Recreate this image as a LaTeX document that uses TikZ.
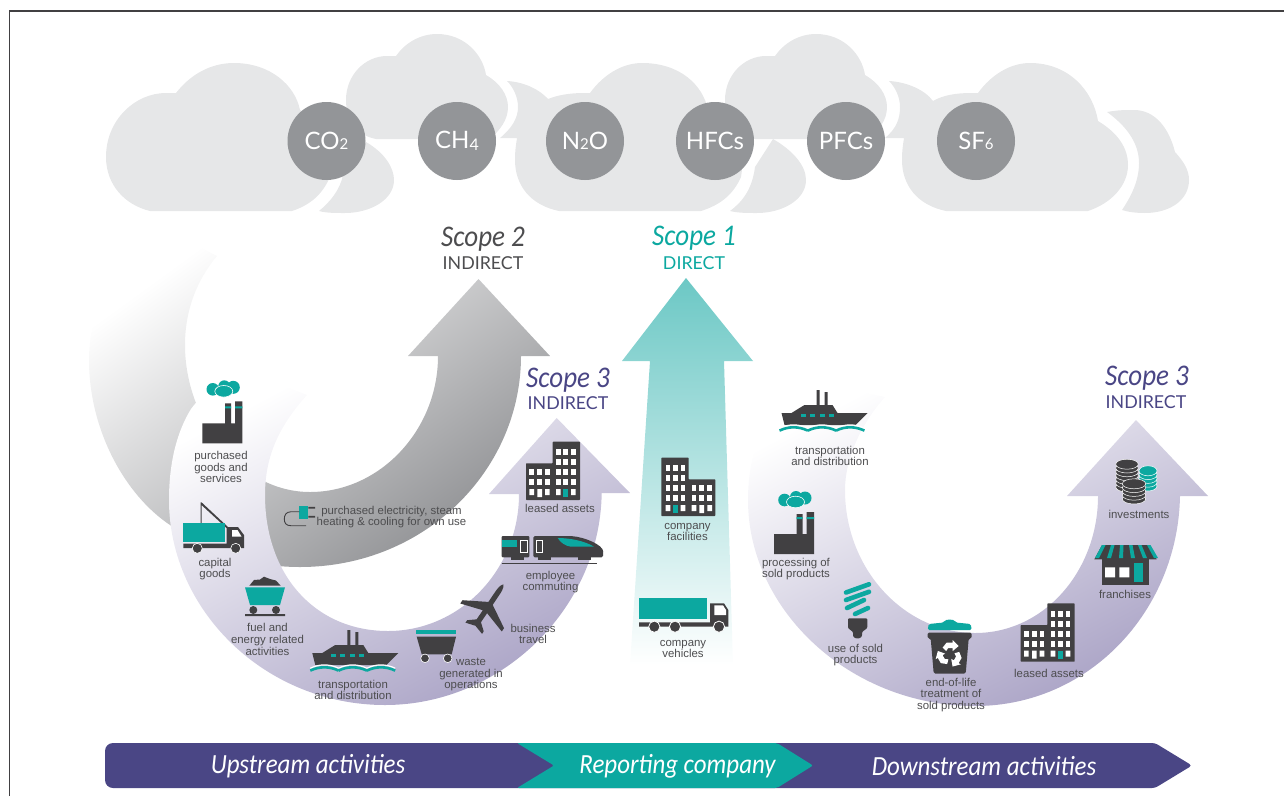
\documentclass[tikz,border=0pt]{standalone}
\usepackage{fontspec}
\setmainfont{Liberation Sans}
\newfontfamily\gasfont{Lato}
\newfontfamily\handfont[FakeStretch=0.9]{Carlito}
\usepackage{xcolor}
\definecolor{cloudgrey}{HTML}{E6E7E8}
\definecolor{gasgrey}{HTML}{939598}
\definecolor{arcgrey}{HTML}{8F9093}
\definecolor{labelgrey}{HTML}{4D4D4F}
\definecolor{icondark}{HTML}{414042}
\definecolor{tealmain}{HTML}{0CA8A0}
\definecolor{tealarrow}{HTML}{6CC8C5}
\definecolor{barpurple}{HTML}{4A4685}
\definecolor{arcpurple}{HTML}{A9A2C5}
\tikzset{
    cloud/.style={fill=cloudgrey},
    gas/.style={circle, fill=gasgrey, minimum size=78pt, inner sep=0pt, text=white, font=\gasfont\fontsize{24}{24}\selectfont},
    lbl/.style={align=center, text=labelgrey, inner sep=0pt, font=\fontsize{11.4}{11.7}\selectfont},
    scopetitle/.style={inner sep=0pt, font=\handfont\itshape\fontsize{30}{30}\selectfont},
    scopekind/.style={inner sep=0pt, font=\gasfont\fontsize{17.8}{18}\selectfont},
    barlabel/.style={inner sep=0pt, text=white, font=\handfont\itshape\fontsize{27.7}{28}\selectfont},
    pics/factory/.style={code={
        \fill[icondark] (0,0) rectangle (40,-20) (22.7,-20) rectangle (28.7,-40) (32.7,-20) rectangle (40,-42);
        \fill[tealmain] (22.7,-37) rectangle (28.7,-35) (32.7,-37) rectangle (40,-35);
        \fill[tealmain] (10.5,-54) circle (6.3) (22,-57) circle (6) (31,-56) circle (6.5);
        \fill[tealmain, draw=white, line width=.6] (21.5,-52) ellipse [x radius=9, y radius=5.8];
    }},
    pics/ship/.style={code={
        \fill[icondark] (0,-12) -- (10,-12) -- (18,-17) -- (23,-20) -- (35,-20) -- (35,-35) -- (38,-35) -- (38,-20) -- (43,-20) -- (43,-33) -- (46,-33) -- (46,-20) -- (51,-20) -- (56,-12) -- (86,-12) -- (74,0) -- (3,0) -- cycle;
        \foreach \wx in {19,28,38,47} \fill[tealmain] (\wx,-11) rectangle ++(5,3);
        \foreach \i in {0,1,2} {
            \begin{scope}[xshift=\i*28.3pt]
            \draw[white, line width=1.2] (-2,3.2) .. controls (7,-1.2) and (17,-1.2) .. (26.3,3.2);
            \draw[tealmain, line width=2.6] (-2,5.6) .. controls (7,1.2) and (17,1.2) .. (26.3,5.6);
            \end{scope}
        }
    }},
    pics/building/.style={code={
        \fill[icondark, rounded corners=.6pt] (0,0) -- (0,-36.7) -- (26.7,-36.7) -- (26.7,-58.3) -- (54,-58.3) -- (54,0) -- cycle;
        \foreach \wx in {3.3,11.3,19} \foreach \wy in {-30.7,-20.7} \fill[white] (\wx,\wy) rectangle ++(4.7,6);
        \fill[white] (3.3,-11) rectangle ++(4.7,6) (11.3,-11) rectangle ++(4.7,8) (19,-11) rectangle ++(4.7,6);
        \foreach \wx in {30,37.3,45} \foreach \wy in {-51,-41,-31,-20.7} \fill[white] (\wx,\wy) rectangle ++(4.7,6);
        \fill[white] (30,-11) rectangle ++(4.7,6) (45,-11) rectangle ++(4.7,6);
        \fill[tealmain] (37.3,-11) rectangle ++(4.7,8);
    }},
    pics/bin/.style={code={
        \fill[tealmain, rounded corners=1.5pt] (0,7.5) -- (1,1.5) -- (16,0) .. controls (18,-3.5) and (26,-3.5) .. (28,0) -- (43,1.5) -- (44,7.5) -- cycle;
        \fill[icondark, rounded corners=1.5pt] (0,10) -- (44,10) -- (44,16) -- (41,16) -- (38,51) -- (6,51) -- (3,16) -- (0,16) -- cycle;
        \foreach \a in {0,120,240} {
            \begin{scope}[shift={(22,32)}, rotate=\a]
            \fill[white] (-7,-7) -- (-3,-12) -- (3,-12) -- (3,-14.5) -- (9,-8.5) -- (3,-3.5) -- (3,-6.5) -- (-1.5,-6.5) -- (-3.5,-3.5) -- cycle;
            \end{scope}
        }
    }}
}
\begin{document}
\begin{tikzpicture}[x=1pt, y=-1pt]
    \useasboundingbox (0,0) rectangle (1284,796);
    % Frame
    \draw[icondark, line width=1.6] (9.5,796) -- (9.5,11) -- (1284,11);

    % Clouds
    \fill[cloud] (150,211) .. controls (125,205) and (106,185) .. (106,157) .. controls (106,120) and (135,93) .. (166,93) -- (176,93) .. controls (190,75) and (210,63) .. (234,63) .. controls (270,63) and (295,85) .. (300,110) .. controls (325,125) and (338,150) .. (330,177) .. controls (322,195) and (310,205) .. (292,211) -- cycle;
    \fill[cloud] (366,142) .. controls (385,153) and (394,168) .. (394,180) .. controls (394,200) and (370,213) .. (345,213) .. controls (335,213) and (326,213) .. (319,211) .. controls (330,202) and (340,190) .. (343,175) -- cycle;
    \foreach \dx in {0,379} {
        \begin{scope}[xshift=\dx pt]
        \fill[cloud] (376,139) .. controls (355,135) and (346,118) .. (346,100) .. controls (346,75) and (365,56) .. (387,56) -- (396,56) .. controls (405,43) and (420,34) .. (437,34) .. controls (465,34) and (483,55) .. (486,75) .. controls (500,83) and (508,95) .. (508,107) .. controls (508,120) and (500,130) .. (490,139) -- cycle;
        \end{scope}
    }
    \fill[cloud] (559,211) .. controls (530,205) and (515,185) .. (515,160) .. controls (515,150) and (516,145) .. (517,138) -- (500,138) .. controls (512,128) and (518,118) .. (518,107) .. controls (518,98) and (514,88) .. (507,81) .. controls (525,82) and (540,90) .. (548,99) .. controls (558,95) and (570,93) .. (584,93) -- (590,93) .. controls (603,75) and (622,63) .. (642,63) .. controls (680,63) and (703,85) .. (708,110) .. controls (733,125) and (746,150) .. (741,177) .. controls (733,195) and (720,205) .. (701,211) -- cycle;
    \fill[cloud] (773,139) .. controls (792,150) and (806,165) .. (806,180) .. controls (806,200) and (782,213) .. (757,213) .. controls (747,213) and (738,213) .. (730,211) .. controls (742,202) and (752,190) .. (755,167) -- cycle;
    \fill[cloud] (946,211) .. controls (917,205) and (902,185) .. (902,160) .. controls (902,150) and (903,145) .. (904,138) -- (885,138) .. controls (897,128) and (900,118) .. (900,107) .. controls (900,98) and (896,88) .. (889,81) .. controls (907,82) and (925,90) .. (933,101) .. controls (943,95) and (957,93) .. (971,93) -- (978,93) .. controls (991,75) and (1010,63) .. (1030,63) .. controls (1068,63) and (1093,90) .. (1098,121) .. controls (1118,133) and (1128,148) .. (1128,165) .. controls (1128,185) and (1112,203) .. (1088,211) -- cycle;
    \fill[cloud] (1107,112) .. controls (1118,110) and (1125,110) .. (1134,110) .. controls (1155,110) and (1169,128) .. (1175,152) .. controls (1184,162) and (1189,170) .. (1189,180) .. controls (1189,200) and (1170,213) .. (1145,213) .. controls (1136,213) and (1128,212) .. (1122,210) .. controls (1132,195) and (1139,180) .. (1139,163) .. controls (1139,142) and (1125,125) .. (1107,112) -- cycle;

    % Gases
    \node[gas] (CO) at (326.5,141) {CO{\fontsize{15}{15}\selectfont 2}};
    \node[gas] (CH) at (457,141) {CH\raisebox{-2pt}{\fontsize{16}{16}\selectfont 4}};
    \node[gas] (NO) at (585,141) {N{\fontsize{15}{15}\selectfont 2}O};
    \node[gas] (HFC) at (715,141) {HFCs};
    \node[gas] (PFC) at (846,141) {PFCs};
    \node[gas] (SF) at (976,141) {SF{\fontsize{15}{15}\selectfont 6}};

    % Arrows
    \shade[top color=white, bottom color=arcgrey, shading angle=36] (173,233) .. controls (120,255) and (89,300) .. (89,360) .. controls (89,430) and (125,495) .. (170,525) .. controls (210,552) and (250,567) .. (300,567) .. controls (425,567) and (521,470) .. (521,356) -- (550,356) -- (478.5,279) -- (408,356) -- (438,356) .. controls (438,430) and (380,492) .. (310,492) .. controls (240,492) and (185,420) .. (185,345) .. controls (185,310) and (197,280) .. (217,256) -- cycle;
    \shade[top color=white, bottom color=arcpurple, shading angle=28] (601.7,493) .. controls (600,610) and (500,705) .. (385,705) .. controls (265,705) and (169,610) .. (169,500) .. controls (169,460) and (178,430) .. (191,409) .. controls (205,390) and (225,378) .. (250,372) -- (307,395) .. controls (280,425) and (265,455) .. (265,495) .. controls (265,575) and (315,631) .. (388,631) .. controls (460,631) and (519,570) .. (519,494) -- (489,494) -- (556.7,418) -- (630,493) -- cycle;
    \shade[top color=white, bottom color=arcpurple, shading angle=28] (1180,496) .. controls (1178,610) and (1090,706) .. (975,706) .. controls (850,706) and (748,610) .. (748,500) .. controls (748,450) and (765,410) .. (800,378) -- (885,397) .. controls (860,425) and (845,460) .. (845,490) .. controls (845,570) and (905,633) .. (975,633) .. controls (1045,633) and (1098,570) .. (1098,496) -- (1067,496) -- (1136,420) -- (1208,496) -- cycle;
    \shade[top color=tealarrow, bottom color=white] (686,278) -- (753,361) -- (724,361) -- (733,665) -- (630,665) -- (650,361) -- (622,361) -- cycle;

    % Scope titles
    \node[scopetitle, text=labelgrey] (ScopeTwo) at (483,239) {Scope 2};
    \node[scopekind, text=labelgrey] (KindTwo) at (483,263) {INDIRECT};
    \node[scopetitle, text=tealmain] (ScopeOne) at (694,238) {Scope 1};
    \node[scopekind, text=tealmain] (KindOne) at (694,263) {DIRECT};
    \node[scopetitle, text=barpurple] (ScopeThreeUp) at (568,380) {Scope 3};
    \node[scopekind, text=barpurple] (KindThreeUp) at (568,403.5) {INDIRECT};
    \node[scopetitle, text=barpurple] (ScopeThreeDown) at (1147,378) {Scope 3};
    \node[scopekind, text=barpurple] (KindThreeDown) at (1146,402) {INDIRECT};

    % Upstream icons
    \pic at (202.3,443.3) {factory};
    \fill[icondark] (200.5,502.3) -- (201.5,502.3) -- (228,527) -- (226.5,528) -- (201.5,505) -- (201.5,523) -- (200.5,523) -- cycle;
    \fill[tealmain] (183.3,522.7) rectangle (225,541.7);
    \fill[icondark] (226.5,527) -- (238,527) -- (244,535) -- (244,548) -- (183.3,548) -- (183.3,543.5) -- (226.5,543.5) -- cycle;
    \fill[white] (232,530) -- (237.5,530) -- (241.5,536.5) -- (232,536.5) -- cycle;
    \fill[icondark, draw=white, line width=.6] (197.3,548.3) circle (5) (235.7,548.3) circle (5);
    % Coal cart
    \fill[icondark] (249.3,585.7) -- (254,580) -- (260,579.5) -- (264,576.7) -- (270,579) -- (276,580.5) -- (280.7,585.7) -- cycle;
    \fill[tealmain] (245,587.3) -- (285,587.3) -- (280,605) -- (250,605) -- cycle;
    \fill[icondark] (253.3,610) circle (4) (276,610) circle (4) (245,614) rectangle (285,616);
    \pic at (312.3,665) {ship};
    % Waste cart
    \fill[tealmain] (416,630) rectangle (456,634);
    \fill[icondark] (416.7,636.7) -- (456,636.7) -- (451.7,654.3) -- (421.7,654.3) -- cycle;
    \fill[icondark, draw=white, line width=.6] (425,658.3) circle (4.3) (447.7,658.3) circle (4.3);
    % Plane
    \begin{scope}[shift={(488.3,606.7)}, rotate=56]
        \fill[icondark] (27,0) .. controls (24,-2.6) and (20,-2.6) .. (14,-2.6) -- (4,-2.6) -- (-9,-25) -- (-13,-25) -- (-6,-2.6) -- (-17,-2.6) -- (-23,-10) -- (-26,-10) -- (-23,0) -- (-26,10) -- (-23,10) -- (-17,2.6) -- (-6,2.6) -- (-13,25) -- (-9,25) -- (4,2.6) -- (14,2.6) .. controls (20,2.6) and (24,2.6) .. (27,0) -- cycle;
    \end{scope}
    % Train
    \fill[icondark, rounded corners=1pt] (501.7,536) rectangle (529.3,557.3);
    \fill[tealmain] (501.7,540) rectangle (516.7,546.7);
    \fill[icondark, rounded corners=1.5pt] (533.3,536) -- (570,536) .. controls (585,537) and (603,545) .. (603.3,553) -- (603,557.3) -- (533.3,557.3) -- cycle;
    \fill[tealmain] (557.7,538) .. controls (570,538) and (585,541) .. (594,546.7) -- (571,546.7) .. controls (565,546) and (560,542) .. (557.7,538) -- cycle;
    \draw[white, line width=.8] (520,540) rectangle (527.3,552.7) (536,540) rectangle (542.7,552.7);
    \foreach \tx in {511,538,578} \fill[icondark] (\tx,557.3) rectangle ++(13,2.5);
    \draw[icondark, line width=1] (501.7,563.3) -- (597,563.3);
    % Plug
    \fill[tealmain] (299.3,506) rectangle (308.3,519);
    \fill[icondark] (308.3,506.8) rectangle (315,508.6) (308.3,515.8) rectangle (315,517.6);
    \draw[icondark, line width=.9] (299.3,511.7) -- (291,511.7) .. controls (286,512) and (284.3,515) .. (284.3,519) .. controls (284.3,523) and (286,525.7) .. (291,525.7) -- (306,525.7);
    % Company icons
    \pic[xscale=-1] at (715.3,516) {building};
    \fill[tealmain] (639,598) rectangle (706.7,619.3);
    \fill[icondark] (710,603.3) -- (724,603.3) -- (728.3,610) -- (728.3,626.7) -- (639,626.7) -- (639,622.3) -- (710,622.3) -- cycle;
    \fill[white] (714.3,605.3) -- (723,605.3) -- (726,610) -- (726,615) -- (714.3,615) -- cycle;
    \fill[icondark, draw=white, line width=.8] (654.3,626.7) circle (5.6) (675,626.7) circle (5.6) (719,626.7) circle (5.6);
    \pic at (526,500) {building};

    % Downstream icons
    \pic at (781.5,425) {ship};
    \pic at (774,554) {factory};
    % Bulb
    \draw[tealmain, line width=4.6, line cap=round] (846,592.5) -- (869,584.3) (846,600) -- (869,591.8) (847,608) -- (864,600) (855,614) -- (868,608);
    \fill[icondark, rounded corners=1pt] (848,618.3) -- (867.3,618.3) -- (867.3,628) -- (862,632) -- (862,636) .. controls (860,639) and (855,639) .. (853,636) -- (853,632) -- (848,628) -- cycle;
    \pic at (927.7,622.5) {bin};
    \pic at (1020.7,661.7) {building};
    % Shop
    \fill[icondark] (1101.7,559.3) rectangle (1149.3,585);
    \fill[icondark] (1094.3,559.3) -- (1102,545) -- (1149,545) -- (1156.7,559.3) -- cycle;
    \foreach \rt/\rb in {1102/1095,1111/1107,1120/1119,1129/1131,1138/1143,1147/1154} \fill[tealmain] (\rt,545) -- (\rt+3.5,545) -- (\rb+4,558) -- (\rb,558) -- cycle;
    \fill[white] (1105,567.3) rectangle (1115,577.3) (1119.3,567.3) rectangle (1129.3,577.3);
    \fill[tealmain] (1134.3,563.3) rectangle (1143.3,581.7);
    % Coins
    \foreach \cx/\base/\rx/\n/\col in {1148/486/9/4/tealmain, 1127/487/11.3/6/icondark, 1134/499/11.7/4/icondark} {
        \foreach \k in {0,...,\n} \fill[\col, draw=white, line width=.5] (\cx,\base-3.8*\k) ellipse [x radius=\rx, y radius=5];
    }

    % Labels
    \node[lbl] (PurchasedGoods) at (221,467) {purchased\\goods and\\services};
    \node[lbl] (CapitalGoods) at (215,569) {capital\\goods};
    \node[lbl] (FuelEnergy) at (267.5,639.5) {fuel and\\energy related\\activities};
    \node[lbl] (TransportUp) at (353,690) {transportation\\and distribution};
    \node[lbl] (Waste) at (471,674.5) {waste\\generated in\\operations};
    \node[lbl] (Business) at (533,634) {business\\travel};
    \node[lbl] (Commuting) at (550.5,582) {employee\\commuting};
    \node[lbl] (LeasedUp) at (560,508.5) {leased assets};
    \node[lbl] (Electricity) at (391.5,517) {purchased electricity, steam\\heating \& cooling for own use};
    \node[lbl] (Facilities) at (687.5,532) {company\\facilities};
    \node[lbl] (Vehicles) at (683,649) {company\\vehicles};
    \node[lbl] (TransportDown) at (830,456) {transportation\\and distribution};
    \node[lbl] (Processing) at (796,569) {processing of\\sold products};
    \node[lbl] (UseSold) at (855.5,655) {use of sold\\products};
    \node[lbl] (EndOfLife) at (951,695) {end-of-life\\treatment of\\sold products};
    \node[lbl] (LeasedDown) at (1049,673) {leased assets};
    \node[lbl] (Franchises) at (1125,594) {franchises};
    \node[lbl] (Investments) at (1139,514) {investments};

    % Bottom bar
    \fill[barpurple] (300,743) [rounded corners=8pt] -- (105,743) -- (105,788) -- (300,788) [rounded corners=3pt] -- (1155,788) -- (1192,765.5) -- (1155,743) -- cycle;
    \fill[tealmain, rounded corners=2pt] (517,743) -- (777,743) -- (813,765.5) -- (777,788) -- (517,788) -- (554,765.5) -- cycle;
    \node[barlabel] (Upstream) at (308,766.5) {Upstream activities};
    \node[barlabel] (Reporting) at (677.5,766.5) {Reporting company};
    \node[barlabel] (Downstream) at (984,766.5) {Downstream activities};
\end{tikzpicture}
\end{document}
